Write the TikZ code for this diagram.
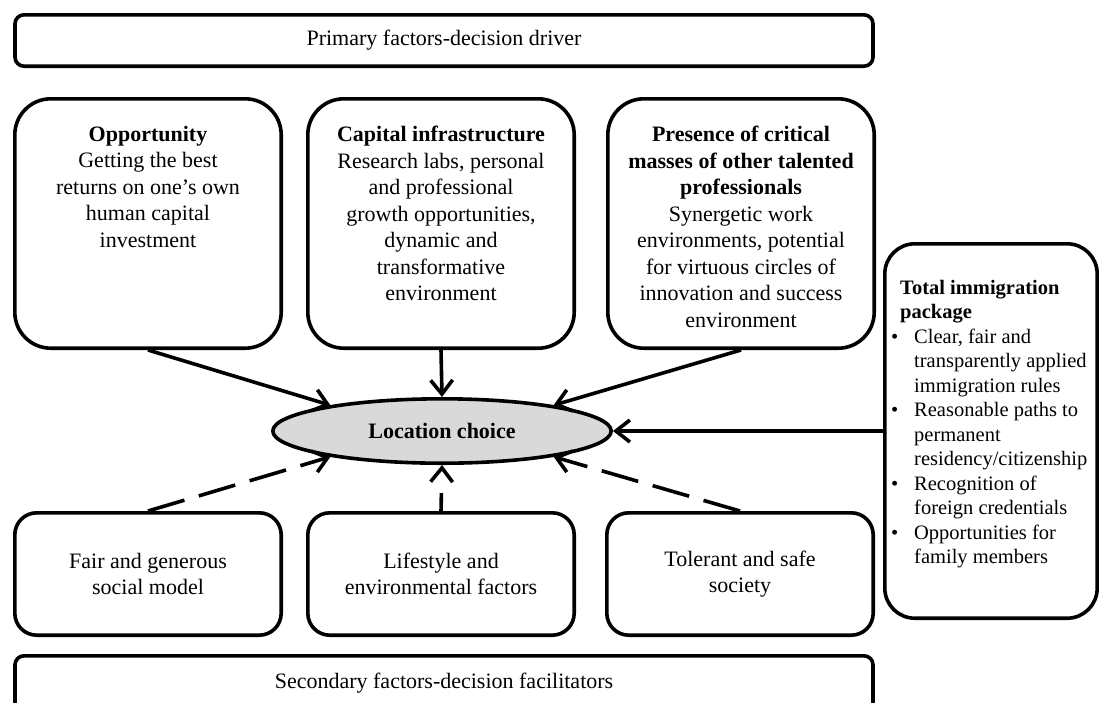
\documentclass[tikz,border=0pt]{standalone}
\usepackage{fontspec}
\setmainfont{Liberation Serif}
\usetikzlibrary{arrows.meta,shapes.geometric}
\newcommand\pkgbullet{\makebox[23pt][l]{\textbullet}}
\newcommand\pkgindent{\hspace*{23pt}}
\begin{document}
\begin{tikzpicture}[x=1pt,y=-1pt,
  every node/.style={font=\fontsize{22}{26.5}\selectfont},
  frame/.style={draw=black, line width=3.6pt, fill=white, inner sep=0pt},
  bar/.style={frame, rounded corners=9pt, minimum width=858pt, minimum height=51.4pt},
  bigbox/.style={frame, rounded corners=36pt, minimum width=266.4pt, minimum height=249.4pt},
  smallbox/.style={frame, rounded corners=22pt, minimum width=266.4pt, minimum height=122.4pt, align=center},
  boxtext/.style={anchor=north, align=center, inner sep=0pt},
  link/.style={line width=3.6pt, -{Straight Barb[length=14pt,width=22pt]}},
  softlink/.style={link, dash pattern=on 38pt off 15pt},
]
\useasboundingbox (0,0) rectangle (1099,702);

% headline bars
\node[bar] (primary) at (444,40.5) {Primary factors-decision driver};
\node[bar, minimum height=55.4pt] (secondary) at (444,683.5) {Secondary factors-decision facilitators};

% primary factors
\node[bigbox] (opp) at (148,223.5) {};
\node[bigbox] (cap) at (441,223.5) {};
\node[bigbox] (pres) at (741,223.5) {};
\node[boxtext] (opptext) at ([yshift=-29pt]opp.north)
  {\textbf{Opportunity}\\Getting the best\\returns on one’s own\\human capital\\investment};
\node[boxtext] (captext) at ([yshift=-29pt]cap.north)
  {\textbf{Capital infrastructure}\\Research labs, personal\\and professional\\growth opportunities,\\dynamic and\\transformative\\environment};
\node[boxtext] (prestext) at ([yshift=-29pt]pres.north)
  {\textbf{Presence of critical}\\\textbf{masses of other talented}\\\textbf{professionals}\\Synergetic work\\environments, potential\\for virtuous circles of\\innovation and success\\environment};

% central decision
\node[ellipse, draw=black, line width=3.6pt, fill=black!15, inner sep=0pt,
      minimum width=338.4pt, minimum height=64.4pt, font=\fontsize{22}{26.5}\selectfont\bfseries]
  (loc) at (442,431) {Location choice};

% secondary factors
\node[smallbox] (fair) at (148,574) {Fair and generous\\social model};
\node[smallbox] (life) at (441,574) {Lifestyle and\\environmental factors};
\node[smallbox] (tol) at (740,574) {Tolerant and safe\\society};

% immigration package
\node[frame, rounded corners=30pt, minimum width=212.4pt, minimum height=374.4pt] (pkg) at (991,431) {};
\node[anchor=north west, align=left, inner sep=0pt, font=\fontsize{20.5}{24.5}\selectfont] (pkgtext) at (891,280)
  {\hspace*{9pt}\textbf{Total immigration}\\
   \hspace*{9pt}\textbf{package}\\
   \pkgbullet Clear, fair and\\
   \pkgindent transparently applied\\
   \pkgindent immigration rules\\
   \pkgbullet Reasonable paths to\\
   \pkgindent permanent\\
   \pkgindent residency/citizenship\\
   \pkgbullet Recognition of\\
   \pkgindent foreign credentials\\
   \pkgbullet Opportunities for\\
   \pkgindent family members};

% connectors
\draw[link] (opp.south) -- (loc.167);
\draw[link] (cap.south) -- (loc.north);
\draw[link] (pres.south) -- (loc.13);
\draw[link] (pkg.west) -- (loc.east);
\draw[softlink] (fair.north) -- (loc.193);
\draw[link, dash pattern=on 18pt off 40pt] (life.north) -- (loc.south);
\draw[softlink] (tol.north) -- (loc.347);
\end{tikzpicture}
\end{document}
